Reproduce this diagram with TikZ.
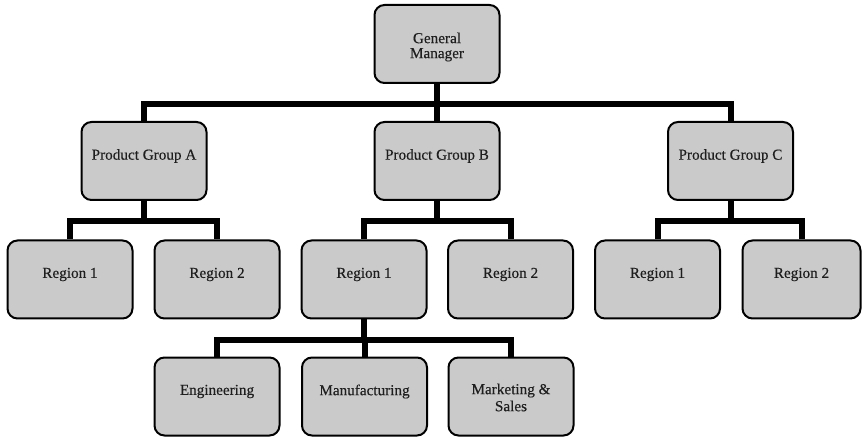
\documentclass[tikz,border=0pt]{standalone}
\usepackage{fontspec}
\setmainfont{Liberation Serif}
\newfontfamily\capfont{Liberation Serif}[FakeBold=0.3]
\usetikzlibrary{backgrounds,calc}
\definecolor{boxgray}{RGB}{202,202,202}
\definecolor{inkgray}{RGB}{30,30,30}
\begin{document}
\begin{tikzpicture}[x=1pt,y=-1pt,
  unit/.style={draw=black, line width=2pt, fill=boxgray, rounded corners=10pt,
               minimum width=125pt, minimum height=78pt, inner sep=0pt},
  caption/.style={font=\capfont\fontsize{15.2}{17}\selectfont, align=center,
                  inner sep=0pt, text=inkgray},
  conn/.style={draw=black, line width=6pt, line join=miter}]
\useasboundingbox (0,0) rectangle (862,438);

% top level
\node[unit] (gm) at (437,44) {};
\node[caption] (gmT) at (437,47) {General\\[-2pt]Manager};

% product groups
\node[unit] (pga) at (144,161) {};
\node[caption] (pgaT) at (144,156) {Product Group A};
\node[unit] (pgb) at (437,161) {};
\node[caption] (pgbT) at (437,156) {Product Group B};
\node[unit] (pgc) at (730.5,161) {};
\node[caption] (pgcT) at (730.5,156) {Product Group C};

% regions
\node[unit] (ra1) at (70,279.5) {};
\node[caption] (ra1T) at (70,274.5) {Region 1};
\node[unit] (ra2) at (217,279.5) {};
\node[caption] (ra2T) at (217,274.5) {Region 2};
\node[unit] (rb1) at (364,279.5) {};
\node[caption] (rb1T) at (364,274.5) {Region 1};
\node[unit] (rb2) at (510.5,279.5) {};
\node[caption] (rb2T) at (510.5,274.5) {Region 2};
\node[unit] (rc1) at (657.5,279.5) {};
\node[caption] (rc1T) at (657.5,274.5) {Region 1};
\node[unit, minimum width=118pt] (rc2) at (801.5,279.5) {};
\node[caption] (rc2T) at (801.5,274.5) {Region 2};

% functions under Region 1 of group B
\node[unit] (eng) at (217,396.5) {};
\node[caption] (engT) at (217,391.5) {Engineering};
\node[unit] (mfg) at (364.5,396.5) {};
\node[caption] (mfgT) at (364.5,391.5) {Manufacturing};
\node[unit] (mks) at (511,396.5) {};
\node[caption] (mksT) at (511,397.5) {Marketing \&\\Sales};

\begin{scope}[on background layer]
  \fill[white] (0,0) rectangle (862,438);
  % reporting lines
  \foreach \c in {pga,pgb,pgc}
    \draw[conn] (gm.south) -- ++(0,20) -| (\c.north);
  \foreach \c in {ra1,ra2}
    \draw[conn] (pga.south) -- ++(0,20) -| (\c.north);
  \foreach \c in {rb1,rb2}
    \draw[conn] (pgb.south) -- ++(0,20) -| (\c.north);
  \foreach \c in {rc1,rc2}
    \draw[conn] (pgc.south) -- ++(0,20) -| (\c.north);
  \foreach \c in {eng,mfg,mks}
    \draw[conn] (rb1.south) -- ++(0,20) -| (\c.north);
\end{scope}
\end{tikzpicture}
\end{document}
